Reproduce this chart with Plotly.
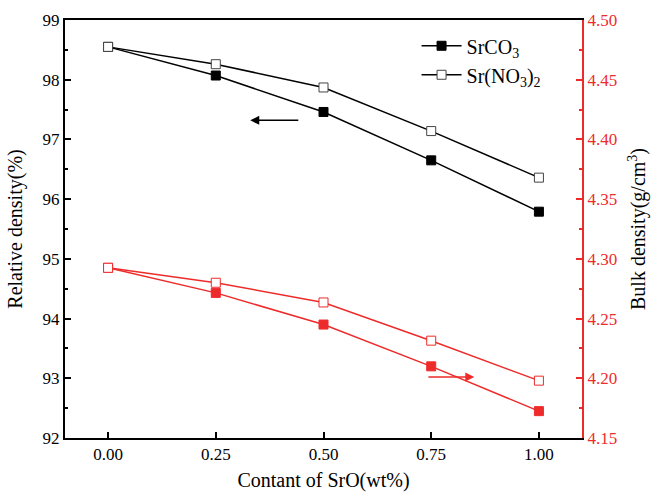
import plotly.graph_objects as go

x_vals = [0.00, 0.25, 0.50, 0.75, 1.00]
x_ticks = ["0.00", "0.25", "0.50", "0.75", "1.00"]
rel_srco3 = [98.55, 98.07, 97.46, 96.65, 95.79]
rel_srno3 = [98.55, 98.26, 97.87, 97.14, 96.36]
bulk_srco3 = [4.2925, 4.2715, 4.245, 4.210, 4.1725]
bulk_srno3 = [4.2925, 4.280, 4.2635, 4.2315, 4.198]

RED = "#ee2b2b"
FONT = "Liberation Serif"

fig = go.Figure()
fig.add_trace(go.Scatter(x=x_vals, y=rel_srco3, mode="lines+markers", name="SrCO<sub>3</sub>",
                         line=dict(color="black", width=1.5),
                         marker=dict(symbol="square", size=9, color="black", line=dict(color="black", width=1))))
fig.add_trace(go.Scatter(x=x_vals, y=rel_srno3, mode="lines+markers", name="Sr(NO<sub>3</sub>)<sub>2</sub>",
                         line=dict(color="black", width=1.5),
                         marker=dict(symbol="square", size=9, color="white", line=dict(color="#444", width=1))))
fig.add_trace(go.Scatter(x=x_vals, y=bulk_srco3, mode="lines+markers", yaxis="y2", showlegend=False,
                         line=dict(color=RED, width=1.5),
                         marker=dict(symbol="square", size=9, color=RED, line=dict(color=RED, width=1))))
fig.add_trace(go.Scatter(x=x_vals, y=bulk_srno3, mode="lines+markers", yaxis="y2", showlegend=False,
                         line=dict(color=RED, width=1.5),
                         marker=dict(symbol="square", size=9, color="white", line=dict(color=RED, width=1))))

fig.add_annotation(x=0.33, y=97.32, ax=0.445, ay=97.32, xref="x", yref="y", axref="x", ayref="y",
                   text="", showarrow=True, arrowhead=2, arrowsize=1.2, arrowwidth=1.5, arrowcolor="black")
fig.add_annotation(x=0.85, y=93.02, ax=0.74, ay=93.02, xref="x", yref="y", axref="x", ayref="y",
                   text="", showarrow=True, arrowhead=2, arrowsize=1.2, arrowwidth=1.5, arrowcolor=RED)

fig.update_layout(
    width=652, height=492,
    margin=dict(l=65, r=70, t=20, b=54),
    plot_bgcolor="white", paper_bgcolor="white",
    font=dict(family=FONT, size=16, color="black"),
    showlegend=True,
    legend=dict(x=0.68, y=0.985, xanchor="left", yanchor="top", bgcolor="rgba(0,0,0,0)",
                font=dict(family=FONT, size=20), tracegroupgap=2, itemwidth=40),
    xaxis=dict(range=[-0.1, 1.1], tickvals=x_vals, ticktext=x_ticks, automargin=False,
               showline=True, linecolor="black", linewidth=2, mirror=True,
               ticks="inside", ticklen=6, tickwidth=2, tickcolor="black",
               showgrid=False, zeroline=False,
               tickfont=dict(family=FONT, size=17),
               title=dict(text="Contant of SrO(wt%)", font=dict(family=FONT, size=20))),
    yaxis=dict(range=[92, 99], dtick=1, tickformat="d", automargin=False,
               showline=True, linecolor="black", linewidth=2,
               ticks="inside", ticklen=6, tickwidth=2, tickcolor="black",
               minor=dict(ticks="inside", ticklen=3, tickwidth=2, dtick=0.5, tickcolor="black"),
               showgrid=False, zeroline=False,
               tickfont=dict(family=FONT, size=17),
               title=dict(text="Relative density(%)", font=dict(family=FONT, size=20))),
    yaxis2=dict(range=[4.15, 4.50], dtick=0.05, tickformat=".2f", overlaying="y", side="right",
                automargin=False,
                showline=True, linecolor=RED, linewidth=2,
                ticks="inside", ticklen=6, tickwidth=2, tickcolor=RED,
                minor=dict(ticks="inside", ticklen=3, tickwidth=2, dtick=0.025, tickcolor=RED),
                showgrid=False, zeroline=False,
                tickfont=dict(family=FONT, size=17, color=RED),
                title=dict(text="Bulk density(g/cm<sup>3</sup>)", font=dict(family=FONT, size=20, color="black"))),
)

fig.write_html("out.html")
